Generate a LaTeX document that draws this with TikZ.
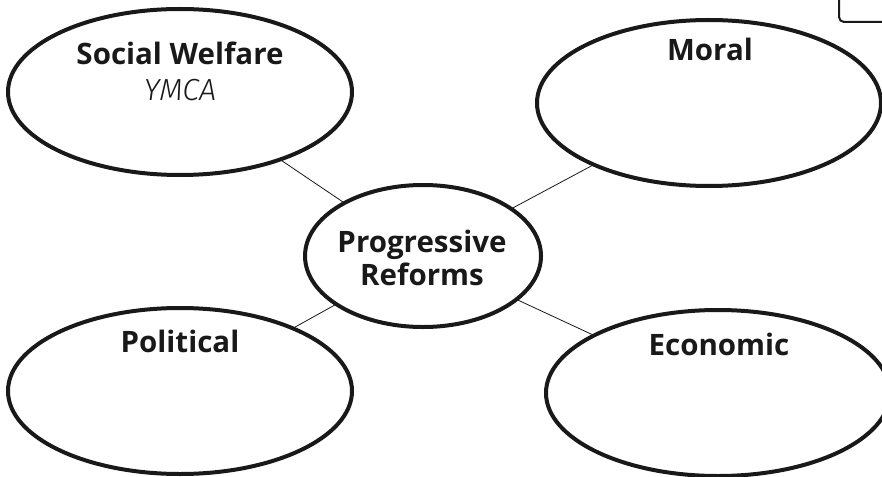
\documentclass[tikz,border=0pt]{standalone}
\usepackage{fontspec}
\setmainfont{Open Sans}
\newfontfamily\hand{Fira Sans Light}
\usetikzlibrary{shapes.geometric}
\tikzset{
  bubble/.style={draw=black!90, line width=4pt, ellipse, inner sep=0pt, outer sep=0pt,
    minimum width=344pt, minimum height=166pt},
  hub/.style={bubble, minimum width=236pt, minimum height=142pt},
  title/.style={font=\fontsize{29.5}{33}\selectfont\bfseries, text=black!90, align=center, inner sep=0pt},
  note/.style={font=\hand\itshape\fontsize{30.5}{32}\selectfont, text=black!90, inner sep=0pt},
  link/.style={line width=0.8pt, draw=black!90},
}
\begin{document}
\begin{tikzpicture}[x=1pt,y=-1pt]
\useasboundingbox (0,0) rectangle (882,476);
\clip (0,0) rectangle (882,476);
\node[bubble] (sw) at (180,92) {};
\node[bubble] (mo) at (709,103) {};
\node[bubble] (po) at (180,391) {};
\node[bubble] (ec) at (718,393) {};
\node[hub] (pr) at (423,256) {};
\draw[link] (sw) -- (pr);
\draw[link] (mo) -- (pr);
\draw[link] (po) -- (pr);
\draw[link] (ec) -- (pr);
\node[title, anchor=base] (swt) at (180,65) {Social Welfare};
\node[note, anchor=base] (swn) at (180,100) {YMCA};
\node[title, anchor=base] (mot) at (710,61) {Moral};
\node[title, anchor=base] (pot) at (180,352) {Political};
\node[title, anchor=base] (ect) at (719,355) {Economic};
\node[title, anchor=base] (prt1) at (422,252) {Progressive};
\node[title, anchor=base] (prt2) at (422,285) {Reforms};
\draw[line width=2pt, rounded corners=5pt, draw=black!90] (839,-10) -- (839,22) -- (900,22);
\end{tikzpicture}
\end{document}
